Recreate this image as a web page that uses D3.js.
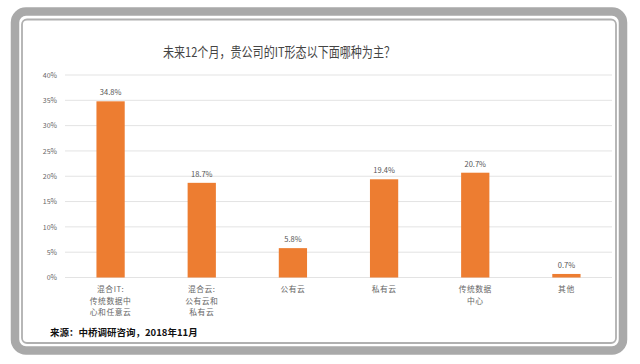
<!DOCTYPE html>
<html><head><meta charset="utf-8">
<script src="https://cdn.jsdelivr.net/npm/d3@7/dist/d3.min.js"></script>
<style>body{margin:0;background:#fff;}svg{display:block;}</style>
</head><body>
<svg id="c" width="640" height="364"></svg>
<script>
const title = "未来12个月，贵公司的IT形态以下面哪种为主？";
const categories = [["混合IT:","传统数据中","心和任意云"],["混合云:","公有云和","私有云"],["公有云"],["私有云"],["传统数据","中心"],["其他"]];
const values = [34.8, 18.7, 5.8, 19.4, 20.7, 0.7];
const yTicks = [0,5,10,15,20,25,30,35,40];
const source = "来源：中桥调研咨询，2018年11月";

const svg = d3.select("#c");
const font = "'Noto Sans CJK SC', 'Open Sans', sans-serif";

// frame
svg.append("rect").attr("x",15).attr("y",11.5).attr("width",608).attr("height",339)
  .attr("rx",11).attr("fill","#fff").attr("stroke","#a9a9a9").attr("stroke-width",8.5);
svg.append("rect").attr("x",22).attr("y",19.5).attr("width",594).attr("height",323.5)
  .attr("rx",5).attr("fill","none").attr("stroke","#b0b0b0").attr("stroke-width",1.8);

const x0 = 65, x1 = 612, yTop = 75, yBot = 277.5;
const x = d3.scaleBand().domain(d3.range(values.length)).range([x0,x1]).paddingInner(0.69).paddingOuter(0.345);
const y = d3.scaleLinear().domain([0,40]).range([yBot,yTop]);

// grid
svg.append("g").selectAll("line").data(yTicks).join("line")
  .attr("x1",x0).attr("x2",x1).attr("y1",d=>y(d)).attr("y2",d=>y(d))
  .attr("stroke","#e3e3e3").attr("stroke-width",1);

// y axis labels
const yAxis = d3.axisLeft(y).tickValues(yTicks).tickSize(0).tickPadding(0).tickFormat(d=>d+"%");
const ga = svg.append("g").attr("transform",`translate(57,0)`).call(yAxis);
ga.select(".domain").remove();
ga.selectAll("text").attr("font-family",font).attr("font-size",7).attr("fill","#666");

// bars
svg.append("g").selectAll("rect").data(values).join("rect")
  .attr("x",(d,i)=>x(i)).attr("width",x.bandwidth())
  .attr("y",d=>y(d)).attr("height",d=>yBot-y(d)).attr("fill","#ED7D31");

// value labels
svg.append("g").selectAll("text").data(values).join("text")
  .attr("x",(d,i)=>x(i)+x.bandwidth()/2).attr("y",d=>y(d)-6)
  .attr("text-anchor","middle").attr("font-family",font).attr("font-size",7.5).attr("fill","#555")
  .text(d=>d.toFixed(1)+"%");

// category labels
const cg = svg.append("g");
categories.forEach((lines,i)=>{
  const t = cg.append("text").attr("text-anchor","middle").attr("font-family",font)
    .attr("font-size",7.8).attr("letter-spacing",0.5).attr("fill","#666");
  lines.forEach((l,j)=>{
    t.append("tspan").attr("x",x(i)+x.bandwidth()/2).attr("y",292+j*11.6).text(l);
  });
});

// title
svg.append("text").attr("x",279).attr("y",57).attr("text-anchor","middle")
  .attr("font-family",font).attr("font-size",13.5).attr("fill","#444")
  .attr("textLength",232).attr("lengthAdjust","spacingAndGlyphs").text(title);

// source
svg.append("text").attr("x",50).attr("y",335.5).attr("font-family",font)
  .attr("font-size",9.5).attr("font-weight","bold").attr("fill","#111").text(source);
</script>
</body></html>
